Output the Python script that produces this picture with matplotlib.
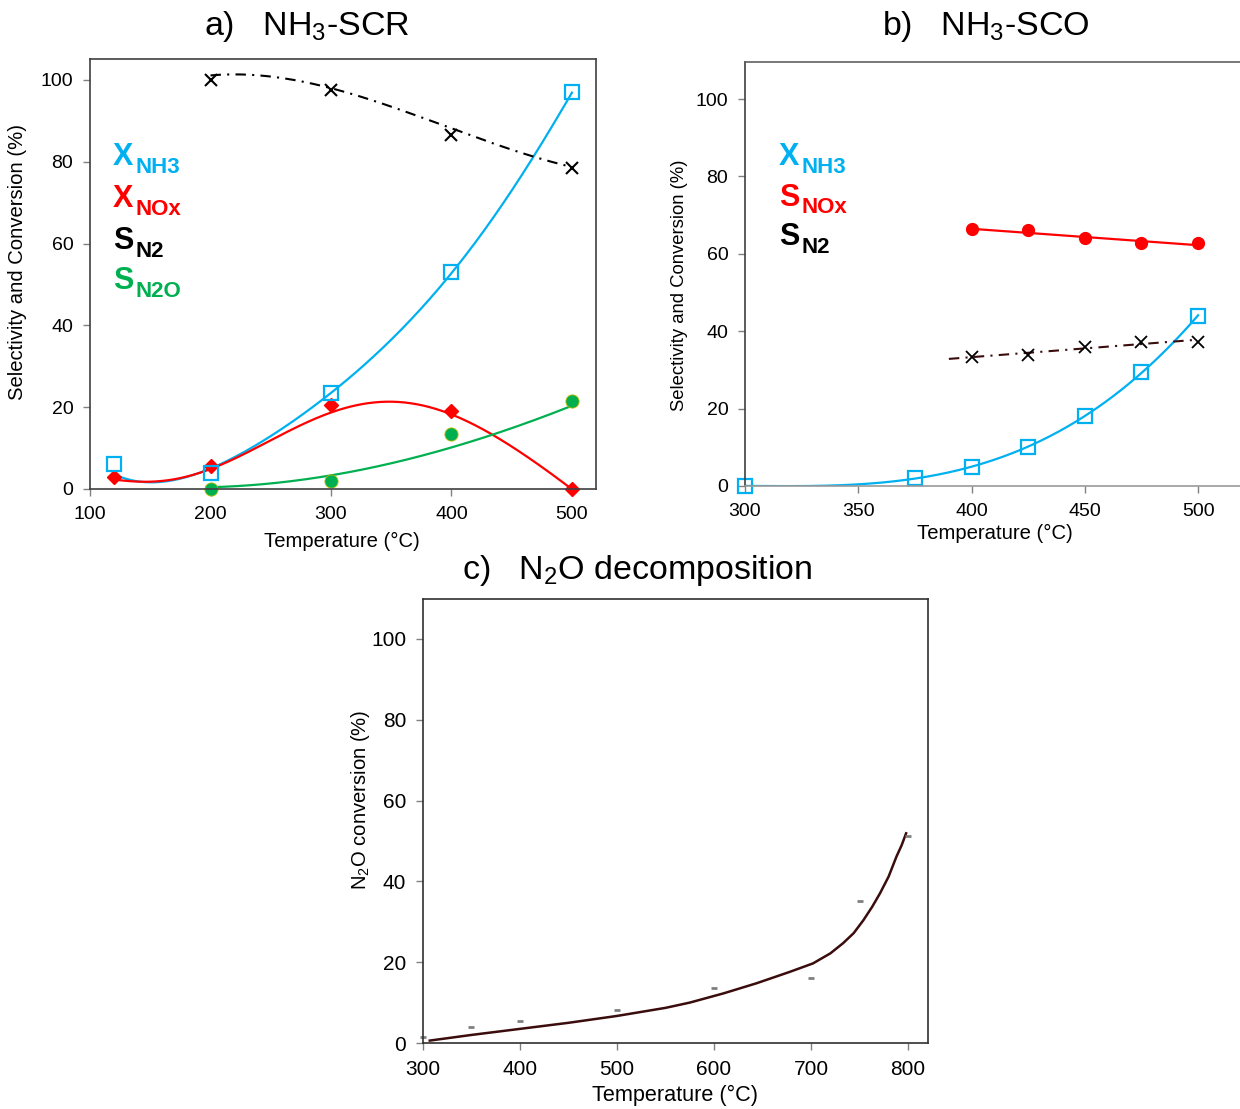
import numpy as np
import matplotlib
matplotlib.use("Agg")
from matplotlib import pyplot as plt
from matplotlib.transforms import offset_copy

plt.rcParams['font.family'] = ['Liberation Sans', 'DejaVu Sans']
plt.rcParams['mathtext.fontset'] = 'custom'
plt.rcParams['mathtext.rm'] = 'Liberation Sans'
plt.rcParams['mathtext.it'] = 'Liberation Sans:italic'
plt.rcParams['mathtext.bf'] = 'Liberation Sans:bold'

# a) NH3-SCR, measured points
scr_temp = [120, 200, 300, 400, 500]
scr_x_nh3 = [6, 4, 23.5, 53, 97]
scr_x_nox = [3, 5.5, 20.5, 19, 0]
scr_sel_temp = [200, 300, 400, 500]
scr_s_n2 = [100, 97.5, 86.5, 78.5]
scr_s_n2o = [0, 2, 13.5, 21.5]

# a) trend curves
scr_fit_temp = [119, 141, 155, 178, 200, 225, 249, 274, 299, 324, 349, 377, 399, 432, 460, 482, 500]
scr_fit_x_nh3 = [3.0, 2.6, 2.5, 2.8, 4.0, 7.5, 12.8, 18.5, 23.8, 29.8, 36.3, 44.0, 52.0, 65.0, 78.0, 88.6, 96.3]
scr_fit_x_nox = [2.2, 2.0, 2.0, 2.8, 4.5, 7.9, 12.0, 16.1, 18.5, 20.3, 20.9, 20.5, 18.7, 13.6, 8.3, 3.8, 0.0]
scr_fit_sel_temp = [200, 249, 299, 349, 399, 448, 500]
scr_fit_s_n2o = [0.4, 1.4, 3.2, 6.3, 9.9, 14.8, 20.3]
scr_fit_s_n2 = [101.2, 100.6, 98.0, 93.9, 88.2, 82.9, 78.8]

# b) NH3-SCO
sco_temp = [300, 375, 400, 425, 450, 475, 500]
sco_x_nh3 = [0, 2, 5, 10, 18, 29.5, 44]
sco_sel_temp = [400, 425, 450, 475, 500]
sco_s_nox = [66.3, 66.1, 64.0, 62.7, 62.7]
sco_s_n2 = [33.4, 33.8, 36.0, 37.3, 37.3]

# c) N2O decomposition (measured points and model curve read off the figure)
n2o_temp = [300, 350, 400, 500, 600, 700, 750, 800]
n2o_conv = [1.6, 4.0, 5.5, 8.1, 13.5, 16.1, 35.2, 51.3]
n2o_model_temp = [307, 350, 400, 450, 500, 550, 575, 610, 644, 678, 702, 720, 733,
                  744, 754, 763, 771, 780, 788, 793.5, 798]
n2o_model_conv = [0.6, 2.0, 3.5, 5.0, 6.7, 8.7, 10.0, 12.3, 14.8, 17.6, 19.7, 22.2, 24.7,
                  27.2, 30.4, 33.7, 37.0, 41.2, 46.1, 49.0, 51.9]

BLUE = '#00B0F0'
RED = '#FF0000'
GREEN = '#00B050'
MAROON = '#3a0c0c'
DASHDOT = (0, (5, 3, 1, 3))
W, H = 1240, 1109


def trend(x, y, order, x0=None, x1=None):
    # polynomial trendline, like a spreadsheet trendline
    x0 = min(x) if x0 is None else x0
    x1 = max(x) if x1 is None else x1
    coef = np.polyfit(x, y, order)
    xs = np.linspace(x0, x1, 300)
    return xs, np.polyval(coef, xs)


def style_axes(ax, spine_color='#404040', labelsize=14):
    for side in ax.spines.values():
        side.set_color(spine_color)
        side.set_linewidth(1.2)
    ax.tick_params(direction='out', length=5, width=1, color='#808080',
                   labelsize=labelsize, pad=7)


def label(ax, x, y, main, sub, color):
    ax.text(x, y, main, transform=ax.transAxes, fontsize=22, fontweight='bold',
            color=color, ha='left', va='baseline')
    tr = offset_copy(ax.transAxes, fig=ax.figure, x=16, y=-5.5, units='points')
    ax.text(x, y, sub, transform=tr, fontsize=16, fontweight='bold',
            color=color, ha='left', va='baseline')


fig = plt.figure(figsize=(12.4, 11.09), dpi=100)

# ---- a) NH3-SCR
ax1 = fig.add_axes([0.0726, 0.5591, 0.4081, 0.3877])
ax1.plot(*trend(scr_fit_temp, scr_fit_x_nh3, 5), color=BLUE, lw=1.6)
ax1.plot(*trend(scr_fit_temp, scr_fit_x_nox, 6), color=RED, lw=1.6)
ax1.plot(*trend(scr_fit_sel_temp, scr_fit_s_n2o, 3), color=GREEN, lw=1.6)
ax1.plot(*trend(scr_fit_sel_temp, scr_fit_s_n2, 3), color='black', lw=1.5, ls=DASHDOT)
ax1.plot(scr_temp, scr_x_nox, ls='none', marker='D', ms=7, color=RED, clip_on=False)
ax1.plot(scr_sel_temp, scr_s_n2o, ls='none', marker='o', ms=9.5,
         mfc=GREEN, mec='#b8b800', mew=0.6, clip_on=False)
ax1.plot(scr_temp, scr_x_nh3, ls='none', marker='s', ms=10, mfc='none',
         mec=BLUE, mew=1.6, clip_on=False)
ax1.plot(scr_sel_temp, scr_s_n2, ls='none', marker='x', ms=9, color='black', mew=1.5)
ax1.set_xlim(100, 520)
ax1.set_ylim(0, 105.1)
ax1.set_xticks([100, 200, 300, 400, 500])
ax1.set_yticks([0, 20, 40, 60, 80, 100])
style_axes(ax1)
label(ax1, 0.045, 0.7535, 'X', 'NH3', BLUE)
label(ax1, 0.045, 0.656, 'X', 'NOx', RED)
label(ax1, 0.045, 0.558, 'S', 'N2', 'black')
label(ax1, 0.045, 0.465, 'S', 'N2O', GREEN)

# ---- b) NH3-SCO
ax2 = fig.add_axes([0.6008, 0.5618, 0.3992, 0.3823])
ax2.plot(*trend(sco_temp, sco_x_nh3, 3), color=BLUE, lw=1.6)
ax2.plot(*trend(sco_sel_temp, sco_s_nox, 1), color=RED, lw=1.6)
ax2.plot(*trend(sco_sel_temp, sco_s_n2, 1, 390, 500), color=MAROON, lw=1.5, ls=DASHDOT)
ax2.plot(sco_sel_temp, sco_s_nox, ls='none', marker='o', ms=8.5, color=RED)
ax2.plot(sco_temp, sco_x_nh3, ls='none', marker='s', ms=9.5, mfc='none',
         mec=BLUE, mew=1.6, clip_on=False)
ax2.plot(sco_sel_temp, sco_s_n2, ls='none', marker='x', ms=8.5, color='black', mew=1.3)
ax2.set_xlim(300, 518.5)
ax2.set_ylim(0, 109.6)
ax2.set_xticks([300, 350, 400, 450, 500])
ax2.set_yticks([0, 20, 40, 60, 80, 100])
style_axes(ax2)
ax2.spines['right'].set_visible(False)
ax2.spines['top'].set_color('#606060')
ax2.spines['bottom'].set_color('#999999')
label(ax2, 0.0687, 0.757, 'X', 'NH3', BLUE)
label(ax2, 0.0687, 0.661, 'S', 'NOx', RED)
label(ax2, 0.0687, 0.568, 'S', 'N2', 'black')

# ---- c) N2O decomposition
ax3 = fig.add_axes([0.3411, 0.0595, 0.4073, 0.4004])
ax3.plot(n2o_model_temp, n2o_model_conv, color=MAROON, lw=1.8)
ax3.plot(n2o_temp, n2o_conv, ls='none', marker='_', ms=5, mew=2, color='#808080',
         clip_on=False)
ax3.set_xlim(300, 820.6)
ax3.set_ylim(0, 109.9)
ax3.set_xticks([300, 400, 500, 600, 700, 800])
ax3.set_yticks([0, 20, 40, 60, 80, 100])
style_axes(ax3, '#303030', labelsize=15)

# titles and axis labels
fig.text(307 / W, 1 - 27 / H, r'a)   NH$_3$-SCR', fontsize=24.5, ha='center', va='center')
fig.text(986 / W, 1 - 27 / H, r'b)   NH$_3$-SCO', fontsize=24.5, ha='center', va='center')
fig.text(637 / W, 1 - 571 / H, r'c)   N$_2$O decomposition', fontsize=24.5,
         ha='center', va='center')

fig.text(18 / W, 1 - 262 / H, 'Selectivity and Conversion (%)', fontsize=14.6,
         rotation=90, ha='center', va='center')
fig.text(342 / W, 1 - 541 / H, 'Temperature (°C)', fontsize=14.6, ha='center', va='center')
fig.text(680 / W, 1 - 285 / H, 'Selectivity and Conversion (%)', fontsize=13.3,
         rotation=90, ha='center', va='center')
fig.text(995 / W, 1 - 533 / H, 'Temperature (°C)', fontsize=14.6, ha='center', va='center')
fig.text(360 / W, 1 - 800 / H, r'N$_2$O conversion (%)', fontsize=14.6,
         rotation=90, ha='center', va='center')
fig.text(675 / W, 1 - 1095 / H, 'Temperature (°C)', fontsize=15.6, ha='center', va='center')

fig.savefig('out.png', dpi=100)
